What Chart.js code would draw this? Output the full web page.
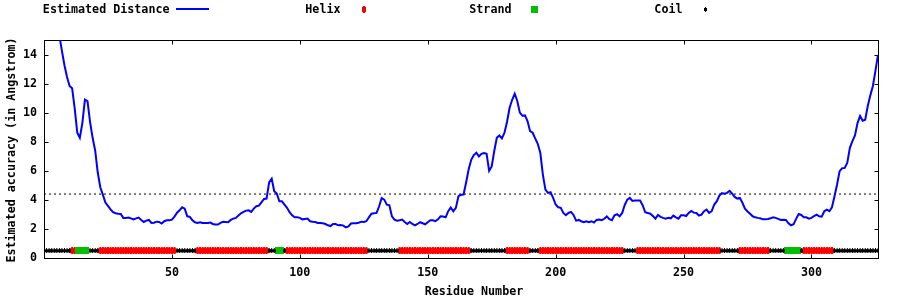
<!DOCTYPE html>
<html>
<head>
<meta charset="utf-8">
<style>
  html, body { margin: 0; padding: 0; background: #fff; }
  #wrap { width: 900px; height: 300px; }
</style>
<script src="https://cdn.jsdelivr.net/npm/chart.js@4.4.0/dist/chart.umd.min.js"></script>
</head>
<body>
<div id="wrap"><canvas id="chart" width="900" height="300"></canvas></div>
<script>
// estimated distance per residue (1..326)
const distance = [
  20.4, 19.4, 18.4, 17.4, 16.4, 15.3, 14.25, 13.26, 12.46, 11.84,
  11.68, 10.3, 8.62, 8.27, 9.3, 10.9, 10.8, 9.37, 8.27, 7.4,
  5.9, 4.87, 4.36, 3.81, 3.58, 3.35, 3.15, 3.08, 3.05, 3.03,
  2.76, 2.76, 2.78, 2.73, 2.66, 2.73, 2.78, 2.62, 2.48, 2.57,
  2.62, 2.41, 2.43, 2.5, 2.48, 2.37, 2.53, 2.6, 2.6, 2.64,
  2.85, 3.12, 3.28, 3.49, 3.4, 2.87, 2.83, 2.6, 2.46, 2.41,
  2.46, 2.41, 2.41, 2.41, 2.44, 2.34, 2.3, 2.3, 2.41, 2.5,
  2.48, 2.46, 2.62, 2.71, 2.76, 2.92, 3.08, 3.17, 3.26, 3.28,
  3.17, 3.4, 3.56, 3.6, 3.83, 4.06, 4.09, 5.2, 5.45, 4.6,
  4.43, 3.9, 3.9, 3.67, 3.45, 3.15, 2.94, 2.8, 2.8, 2.76,
  2.66, 2.69, 2.71, 2.53, 2.5, 2.48, 2.41, 2.41, 2.39, 2.34,
  2.25, 2.2, 2.34, 2.34, 2.25, 2.27, 2.23, 2.11, 2.18, 2.37,
  2.39, 2.39, 2.43, 2.5, 2.48, 2.53, 2.8, 3.05, 3.08, 3.1,
  3.56, 4.13, 4.02, 3.67, 3.63, 2.87, 2.64, 2.57, 2.6, 2.64,
  2.48, 2.34, 2.48, 2.34, 2.25, 2.34, 2.46, 2.39, 2.32, 2.46,
  2.6, 2.6, 2.53, 2.66, 2.87, 2.85, 2.8, 3.22, 3.47, 3.22,
  3.45, 4.25, 4.35, 4.37, 5.2, 6.1, 6.76, 7.08, 7.24, 6.99,
  7.17, 7.22, 7.17, 6.0, 6.3, 7.36, 8.27, 8.43, 8.23, 8.62,
  9.38, 10.34, 10.89, 11.3, 10.8, 10.0, 9.79, 9.81, 9.42, 8.73,
  8.62, 8.23, 7.86, 7.24, 5.74, 4.71, 4.48, 4.53, 4.14, 3.68,
  3.49, 3.45, 3.1, 2.94, 3.1, 3.17, 2.96, 2.57, 2.62, 2.53,
  2.46, 2.53, 2.46, 2.53, 2.44, 2.62, 2.64, 2.6, 2.7, 2.86,
  2.67, 2.6, 2.94, 3.01, 2.87, 3.1, 3.65, 4.02, 4.14, 3.93,
  3.95, 3.95, 3.95, 3.63, 3.15, 3.1, 3.05, 2.89, 2.71, 2.96,
  2.83, 2.76, 2.71, 2.76, 2.73, 2.92, 2.8, 2.71, 2.94, 2.94,
  2.89, 3.1, 3.24, 3.12, 3.1, 2.92, 2.98, 3.22, 3.33, 3.1,
  3.22, 3.68, 3.91, 4.3, 4.46, 4.43, 4.48, 4.62, 4.43, 4.2,
  4.09, 4.14, 3.8, 3.4, 3.2, 3.04, 2.87, 2.8, 2.76, 2.73,
  2.66, 2.66, 2.69, 2.73, 2.8, 2.76, 2.69, 2.62, 2.64, 2.62,
  2.39, 2.25, 2.32, 2.69, 3.03, 2.96, 2.8, 2.8, 2.71, 2.76,
  2.89, 2.98, 2.87, 2.85, 3.22, 3.33, 3.22, 3.49, 4.25, 5.06,
  5.98, 6.18, 6.2, 6.55, 7.58, 8.04, 8.43, 9.28, 9.77, 9.45,
  9.51, 10.46, 11.19, 11.84, 12.87, 13.97
];

// secondary structure segments (first, last residue); everything else is coil
const helixRanges = [[11, 12], [22, 51], [60, 87], [95, 126], [139, 166], [181, 189],
                     [194, 226], [232, 264], [272, 283], [297, 308]];
const strandRanges = [[13, 17], [91, 93], [290, 295]];

const residueCount = 326;
const meanDistance = 4.4;
const trackLevel = 0.5;
const xTickValues = [50, 100, 150, 200, 250, 300];
const yTickValues = [0, 2, 4, 6, 8, 10, 12, 14];
const legendLabels = ['Estimated Distance', 'Helix', 'Strand', 'Coil'];

const FONT = '"DejaVu Sans Mono", "Liberation Mono", monospace';

function inRanges(r, ranges) {
  return ranges.some(function (s) { return r >= s[0] && r <= s[1]; });
}

var distPoints = distance.map(function (v, i) { return {x: i + 1, y: v}; });
var helixPts = [], strandPts = [], coilPts = [];
for (var r = 1; r <= residueCount; r++) {
  if (inRanges(r, helixRanges)) helixPts.push({x: r, y: trackLevel});
  else if (inRanges(r, strandRanges)) strandPts.push({x: r, y: trackLevel});
  else coilPts.push({x: r, y: trackLevel});
}

// small pixel markers like the gnuplot ones
function marker(w, h, color, cut) {
  var c = document.createElement('canvas');
  c.width = w; c.height = h;
  var g = c.getContext('2d');
  g.fillStyle = color;
  if (cut) {
    g.fillRect(1, 0, w - 2, h);
    g.fillRect(0, 1, w, h - 2);
  } else {
    g.fillRect(0, 0, w, h);
  }
  return c;
}
var helixMark = marker(4, 7, '#ff0000', true);
var strandMark = marker(4, 7, '#00c000', false);
var strandKey = marker(7, 7, '#00c000', false);
var coilMark = marker(3, 5, '#000000', true);

const gnuplotFrame = {
  id: 'gnuplotFrame',
  beforeDatasetsDraw(chart) {
    const ctx = chart.ctx, a = chart.chartArea;
    const x = chart.scales.x, y = chart.scales.y;
    const L = Math.round(a.left) + 0.5, R = Math.round(a.right) + 0.5;
    const T = Math.round(a.top) + 0.5, B = Math.round(a.bottom) + 0.5;
    ctx.save();
    ctx.strokeStyle = '#000';
    ctx.lineWidth = 1;
    ctx.beginPath();
    xTickValues.forEach(function (v) {
      const px = Math.round(x.getPixelForValue(v)) + 0.5;
      ctx.moveTo(px, B); ctx.lineTo(px, B - 4);
      ctx.moveTo(px, T); ctx.lineTo(px, T + 4);
    });
    yTickValues.forEach(function (v) {
      const py = Math.round(y.getPixelForValue(v)) + 0.5;
      ctx.moveTo(L, py); ctx.lineTo(L + 4, py);
      ctx.moveTo(R, py); ctx.lineTo(R - 4, py);
    });
    ctx.stroke();
    ctx.strokeRect(L, T, R - L, B - T);
    ctx.restore();
  },
  afterDraw(chart) {
    const ctx = chart.ctx;
    ctx.save();
    ctx.fillStyle = '#000';
    ctx.font = 'bold 11.7px ' + FONT;
    ctx.textBaseline = 'alphabetic';

    // axis titles
    ctx.textAlign = 'center';
    ctx.fillText('Residue Number', 474, 295);
    ctx.save();
    ctx.translate(15, 150);
    ctx.rotate(-Math.PI / 2);
    ctx.fillText('Estimated accuracy (in Angstrom)', 0, 0);
    ctx.restore();

    // legend row
    ctx.textAlign = 'right';
    legendLabels.forEach(function (label, i) {
      const cx = 192.5 + 171 * i;
      ctx.fillStyle = '#000';
      ctx.fillText(label, cx - 23, 13);
      if (i === 0) {
        ctx.strokeStyle = '#0000ff';
        ctx.lineWidth = 2;
        ctx.beginPath();
        ctx.moveTo(176, 9); ctx.lineTo(209, 9);
        ctx.stroke();
      } else {
        const m = [null, helixMark, strandKey, coilMark][i];
        ctx.drawImage(m, Math.round(cx - m.width / 2), Math.round(9 - m.height / 2));
      }
    });
    ctx.restore();
  }
};

var chart = new Chart(document.getElementById('chart').getContext('2d'), {
  type: 'line',
  data: {
    datasets: [
      {
        label: 'Estimated Distance',
        data: distPoints,
        borderColor: '#0000ff',
        borderWidth: 2,
        pointRadius: 0,
        tension: 0,
        fill: false
      },
      {
        label: 'Coil',
        data: coilPts,
        showLine: false,
        pointStyle: coilMark,
        pointRadius: 3
      },
      {
        label: 'Strand',
        data: strandPts,
        showLine: false,
        pointStyle: strandMark,
        pointRadius: 3
      },
      {
        label: 'Helix',
        data: helixPts,
        showLine: false,
        pointStyle: helixMark,
        pointRadius: 3
      },
      {
        label: 'mean',
        data: [{x: 0, y: meanDistance}, {x: residueCount, y: meanDistance}],
        borderColor: '#000000',
        borderWidth: 1,
        borderDash: [2, 3],
        pointRadius: 0,
        fill: false
      }
    ]
  },
  options: {
    responsive: false,
    animation: false,
    devicePixelRatio: 1,
    layout: {
      padding: { top: 40, right: 22, bottom: 0, left: 0 }
    },
    scales: {
      x: {
        type: 'linear',
        min: 0,
        max: residueCount,
        grid: { display: false, drawTicks: false },
        border: { display: false },
        afterBuildTicks: function (s) { s.ticks = xTickValues.map(function (v) { return {value: v}; }); },
        afterFit: function (s) { s.height = 42; },
        ticks: {
          padding: 8,
          maxRotation: 0,
          color: '#000',
          font: { family: FONT, size: 11.7, weight: 'bold' }
        }
      },
      y: {
        min: 0,
        max: 15,
        grid: { display: false, drawTicks: false },
        border: { display: false },
        afterBuildTicks: function (s) { s.ticks = yTickValues.map(function (v) { return {value: v}; }); },
        afterFit: function (s) { s.width = 44; },
        ticks: {
          padding: 7,
          color: '#000',
          font: { family: FONT, size: 11.7, weight: 'bold' }
        }
      }
    },
    plugins: {
      legend: { display: false },
      tooltip: { enabled: false }
    }
  },
  plugins: [gnuplotFrame]
});
</script>
</body>
</html>
